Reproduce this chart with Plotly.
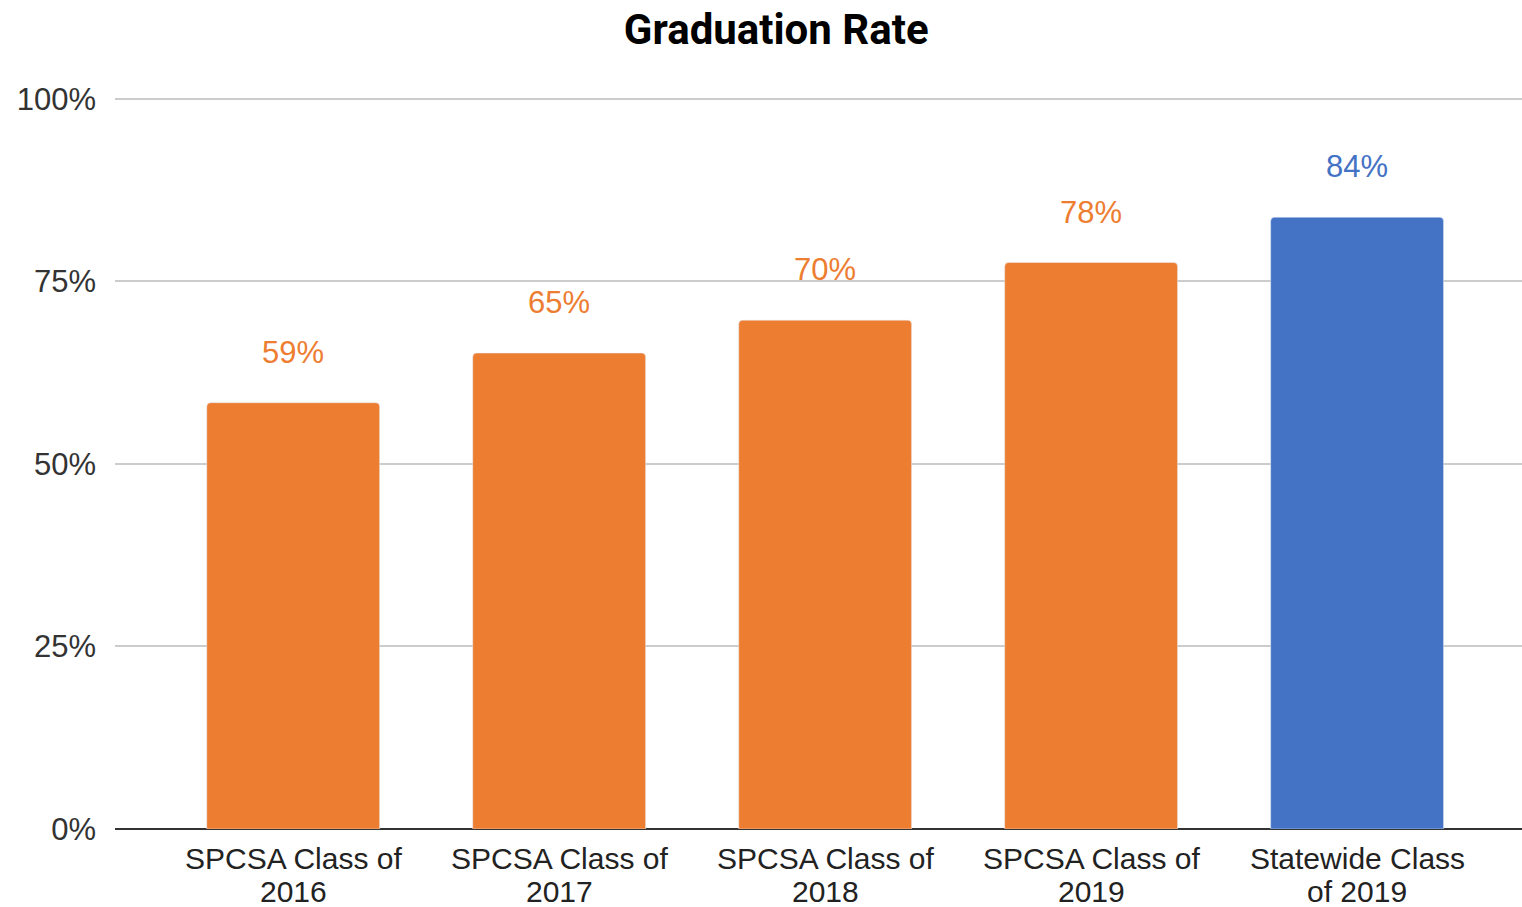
import plotly.graph_objects as go

categories = ["SPCSA Class of<br>2016", "SPCSA Class of<br>2017", "SPCSA Class of<br>2018",
              "SPCSA Class of<br>2019", "Statewide Class<br>of 2019"]
rates = [58.4, 65.2, 69.7, 77.6, 83.8]
labels = ["59%", "65%", "70%", "78%", "84%"]
colors = ["#ED7D31", "#ED7D31", "#ED7D31", "#ED7D31", "#4472C4"]
y_ticks = [0, 25, 50, 75, 100]

AX_FONT = "Liberation Sans, Arial"

fig = go.Figure()
fig.add_trace(go.Bar(x=categories, y=rates, marker=dict(color=colors, cornerradius=4),
                     width=0.65, hoverinfo="skip"))

# value labels above bars
for c, v, t, col in zip(categories, rates, labels, colors):
    fig.add_annotation(x=c, y=v, text=t, showarrow=False, yanchor="bottom", yshift=31,
                       font=dict(family=AX_FONT, size=31, color=col))

# category labels, two tight lines each
for c in categories:
    for i, line in enumerate(c.split("<br>")):
        fig.add_annotation(x=c, y=0, text=line, showarrow=False, yanchor="middle",
                           yshift=-29 - 33 * i, borderpad=0,
                           font=dict(family=AX_FONT, size=30, color="#222"))

fig.update_layout(
    width=1522, height=915,
    paper_bgcolor="white", plot_bgcolor="white",
    margin=dict(l=115, r=0, t=97, b=86),
    title=dict(text="<b>Graduation Rate</b>", x=0.51, xanchor="center", y=1 - 29 / 915,
               yanchor="middle", font=dict(family="Roboto", size=42, color="black")),
    showlegend=False,
    xaxis=dict(range=[-0.67, 4.62], showgrid=False, showline=False, ticks="",
               showticklabels=False),
    yaxis=dict(range=[0, 100.27], tickvals=y_ticks, ticktext=[f"{t}%" for t in y_ticks],
               showgrid=True, gridcolor="#cccccc", gridwidth=2,
               zeroline=True, zerolinecolor="#333333", zerolinewidth=2,
               ticks="", ticklabelstandoff=18,
               tickfont=dict(family=AX_FONT, size=31, color="#333")),
)

fig.write_html("out.html", config={"displayModeBar": False},
               post_script="document.body.style.margin = '0';")
